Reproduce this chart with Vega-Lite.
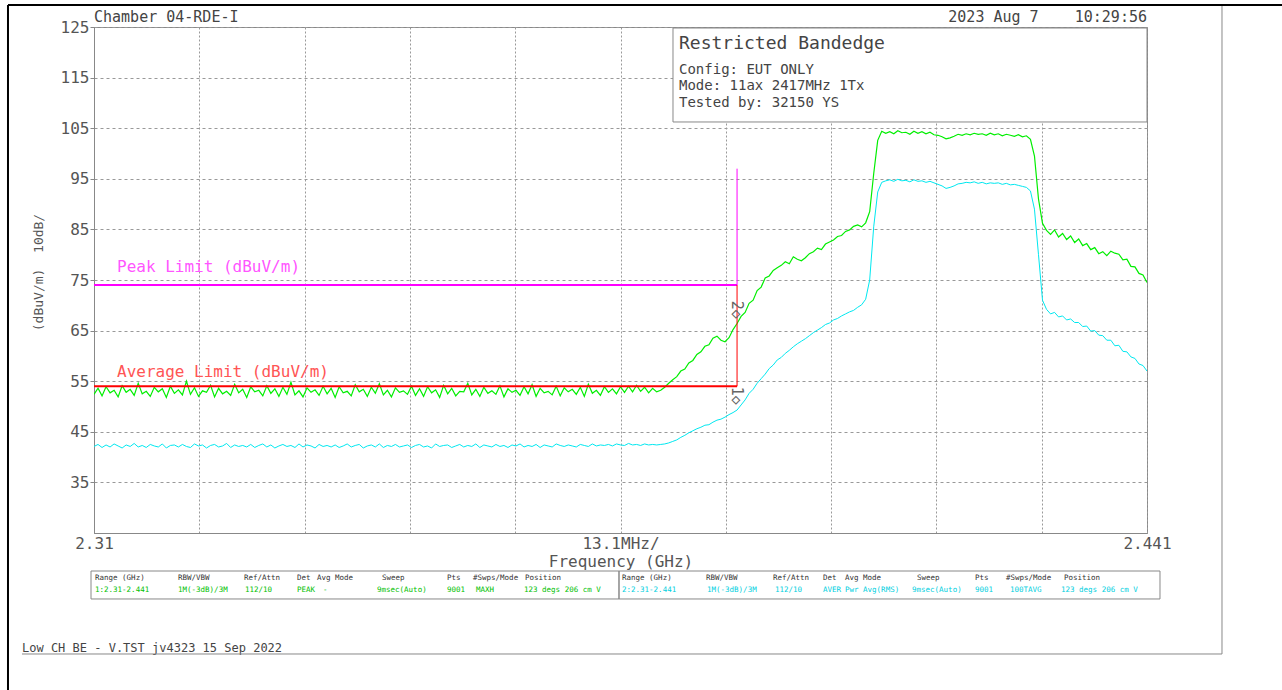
{
"$schema": "https://vega.github.io/schema/vega-lite/v6.json",
"width": 1053, "height": 506,
"autosize": {"type": "none"},
"padding": {"left": 94, "top": 27, "right": 135, "bottom": 157},
"background": "white",
"resolve": {"scale": {"color": "independent"}},
"config": {
 "view": {"stroke": "#888", "strokeWidth": 1},
 "font": "DejaVu Sans Mono",
 "axis": {"labelFont": "DejaVu Sans Mono", "titleFont": "DejaVu Sans Mono", "titleFontWeight": "normal", "labelColor": "#555", "titleColor": "#555", "domainColor": "#888", "tickColor": "#888", "gridColor": "#999"}
},
"datasets": {
 "trace": [
{"f":2.3100,"g":52.4,"c":42.1},{"f":2.3105,"g":53.6,"c":42.5},{"f":2.3110,"g":52.1,"c":41.9},{"f":2.3115,"g":53.9,"c":42.4},{"f":2.3120,"g":52.7,"c":42.0},{"f":2.3125,"g":53.2,"c":42.6},{"f":2.3130,"g":51.9,"c":42.2},{"f":2.3135,"g":54.1,"c":41.8},{"f":2.3140,"g":52.8,"c":42.4},{"f":2.3145,"g":53.4,"c":42.1},
{"f":2.3150,"g":52.2,"c":42.7},{"f":2.3155,"g":54.6,"c":42.0},{"f":2.3160,"g":52.5,"c":42.3},{"f":2.3165,"g":53.0,"c":41.9},{"f":2.3170,"g":52.0,"c":42.5},{"f":2.3175,"g":53.8,"c":42.2},{"f":2.3180,"g":52.9,"c":42.0},{"f":2.3185,"g":53.5,"c":42.6},{"f":2.3190,"g":51.8,"c":41.8},{"f":2.3195,"g":54.0,"c":42.3},
{"f":2.3200,"g":52.6,"c":42.4},{"f":2.3205,"g":53.3,"c":42.0},{"f":2.3210,"g":52.3,"c":42.5},{"f":2.3215,"g":55.0,"c":42.1},{"f":2.3220,"g":52.4,"c":41.9},{"f":2.3225,"g":53.7,"c":42.6},{"f":2.3230,"g":52.0,"c":42.2},{"f":2.3235,"g":53.1,"c":42.4},{"f":2.3240,"g":52.8,"c":41.8},{"f":2.3245,"g":54.2,"c":42.3},
{"f":2.3250,"g":51.9,"c":42.5},{"f":2.3255,"g":53.6,"c":42.0},{"f":2.3260,"g":52.5,"c":42.2},{"f":2.3265,"g":53.0,"c":42.7},{"f":2.3270,"g":52.2,"c":41.9},{"f":2.3275,"g":54.4,"c":42.4},{"f":2.3280,"g":52.7,"c":42.1},{"f":2.3285,"g":53.4,"c":42.3},{"f":2.3290,"g":51.8,"c":42.0},{"f":2.3295,"g":53.9,"c":42.5},
{"f":2.3300,"g":52.9,"c":41.9},{"f":2.3305,"g":53.2,"c":42.3},{"f":2.3310,"g":52.1,"c":42.6},{"f":2.3315,"g":54.1,"c":42.0},{"f":2.3320,"g":52.6,"c":42.4},{"f":2.3325,"g":53.5,"c":41.8},{"f":2.3330,"g":52.0,"c":42.2},{"f":2.3335,"g":53.8,"c":42.5},{"f":2.3340,"g":52.4,"c":42.1},{"f":2.3345,"g":54.8,"c":42.3},
{"f":2.3350,"g":52.3,"c":41.9},{"f":2.3355,"g":53.1,"c":42.6},{"f":2.3360,"g":51.9,"c":42.0},{"f":2.3365,"g":53.7,"c":42.4},{"f":2.3370,"g":52.8,"c":42.2},{"f":2.3375,"g":53.3,"c":41.8},{"f":2.3380,"g":52.2,"c":42.5},{"f":2.3385,"g":54.0,"c":42.1},{"f":2.3390,"g":52.5,"c":42.3},{"f":2.3395,"g":53.6,"c":42.0},
{"f":2.3400,"g":51.8,"c":42.4},{"f":2.3405,"g":53.9,"c":41.9},{"f":2.3410,"g":52.7,"c":42.2},{"f":2.3415,"g":53.0,"c":42.6},{"f":2.3420,"g":52.1,"c":42.0},{"f":2.3425,"g":54.3,"c":42.3},{"f":2.3430,"g":52.9,"c":42.5},{"f":2.3435,"g":53.4,"c":41.8},{"f":2.3440,"g":52.0,"c":42.2},{"f":2.3445,"g":53.8,"c":42.4},
{"f":2.3450,"g":52.6,"c":42.0},{"f":2.3455,"g":54.5,"c":42.6},{"f":2.3460,"g":52.3,"c":41.9},{"f":2.3465,"g":53.2,"c":42.3},{"f":2.3470,"g":51.9,"c":42.1},{"f":2.3475,"g":53.7,"c":42.5},{"f":2.3480,"g":52.8,"c":42.0},{"f":2.3485,"g":53.1,"c":42.2},{"f":2.3490,"g":52.4,"c":42.4},{"f":2.3495,"g":54.0,"c":41.9},
{"f":2.3500,"g":52.2,"c":42.3},{"f":2.3505,"g":53.5,"c":42.5},{"f":2.3510,"g":52.0,"c":42.0},{"f":2.3515,"g":53.9,"c":42.2},{"f":2.3520,"g":52.7,"c":41.8},{"f":2.3525,"g":53.3,"c":42.6},{"f":2.3530,"g":51.8,"c":42.1},{"f":2.3535,"g":54.2,"c":42.3},{"f":2.3540,"g":52.5,"c":42.4},{"f":2.3545,"g":53.6,"c":41.9},
{"f":2.3550,"g":52.1,"c":42.2},{"f":2.3555,"g":53.0,"c":42.5},{"f":2.3560,"g":52.9,"c":42.0},{"f":2.3565,"g":54.6,"c":42.3},{"f":2.3570,"g":52.3,"c":42.1},{"f":2.3575,"g":53.4,"c":42.6},{"f":2.3580,"g":52.0,"c":41.9},{"f":2.3585,"g":53.8,"c":42.4},{"f":2.3590,"g":52.6,"c":42.2},{"f":2.3595,"g":53.1,"c":42.0},
{"f":2.3600,"g":52.4,"c":42.5},{"f":2.3605,"g":54.1,"c":42.1},{"f":2.3610,"g":51.9,"c":42.3},{"f":2.3615,"g":53.5,"c":41.9},{"f":2.3620,"g":52.8,"c":42.4},{"f":2.3625,"g":53.2,"c":42.2},{"f":2.3630,"g":52.2,"c":42.6},{"f":2.3635,"g":53.9,"c":42.0},{"f":2.3640,"g":52.5,"c":42.3},{"f":2.3645,"g":54.3,"c":42.1},
{"f":2.3650,"g":52.0,"c":42.5},{"f":2.3655,"g":53.6,"c":41.9},{"f":2.3660,"g":52.7,"c":42.4},{"f":2.3665,"g":53.0,"c":42.2},{"f":2.3670,"g":52.3,"c":42.0},{"f":2.3675,"g":54.0,"c":42.6},{"f":2.3680,"g":52.1,"c":42.3},{"f":2.3685,"g":53.7,"c":42.1},{"f":2.3690,"g":52.9,"c":42.4},{"f":2.3695,"g":53.4,"c":42.2},
{"f":2.3700,"g":52.4,"c":42.0},{"f":2.3705,"g":53.8,"c":42.5},{"f":2.3710,"g":52.0,"c":42.3},{"f":2.3715,"g":54.4,"c":42.1},{"f":2.3720,"g":52.6,"c":42.6},{"f":2.3725,"g":53.2,"c":42.2},{"f":2.3730,"g":52.2,"c":42.4},{"f":2.3735,"g":53.9,"c":42.3},{"f":2.3740,"g":52.8,"c":42.5},{"f":2.3745,"g":53.5,"c":42.2},
{"f":2.3750,"g":52.5,"c":42.6},{"f":2.3755,"g":53.9,"c":42.4},{"f":2.3760,"g":52.8,"c":42.3},{"f":2.3765,"g":54.0,"c":42.7},{"f":2.3770,"g":52.9,"c":42.4},{"f":2.3775,"g":54.2,"c":42.5},{"f":2.3780,"g":53.0,"c":42.3},{"f":2.3785,"g":53.8,"c":42.6},{"f":2.3790,"g":52.7,"c":42.4},{"f":2.3795,"g":53.6,"c":42.5},
{"f":2.3800,"g":52.9,"c":42.4},{"f":2.3805,"g":53.2,"c":42.5},{"f":2.3810,"g":53.8,"c":42.6},{"f":2.3815,"g":54.6,"c":42.8},{"f":2.3820,"g":55.3,"c":43.1},{"f":2.3825,"g":55.9,"c":43.4},{"f":2.3830,"g":57.0,"c":43.9},{"f":2.3835,"g":57.4,"c":44.3},{"f":2.3840,"g":58.6,"c":44.8},{"f":2.3845,"g":59.1,"c":45.2},
{"f":2.3850,"g":60.3,"c":45.6},{"f":2.3855,"g":60.8,"c":45.9},{"f":2.3860,"g":61.9,"c":46.3},{"f":2.3865,"g":62.2,"c":46.4},{"f":2.3870,"g":63.5,"c":46.9},{"f":2.3875,"g":63.9,"c":47.3},{"f":2.3880,"g":63.1,"c":47.5},{"f":2.3885,"g":62.8,"c":47.9},{"f":2.3890,"g":63.6,"c":48.4},{"f":2.3895,"g":65.2,"c":48.8},
{"f":2.3900,"g":66.4,"c":49.3},{"f":2.3905,"g":67.8,"c":50.3},{"f":2.3910,"g":68.6,"c":51.3},{"f":2.3915,"g":70.4,"c":52.6},{"f":2.3920,"g":71.0,"c":53.4},{"f":2.3925,"g":72.9,"c":54.6},{"f":2.3930,"g":73.6,"c":55.5},{"f":2.3935,"g":75.4,"c":56.4},{"f":2.3940,"g":75.8,"c":57.5},{"f":2.3945,"g":76.9,"c":58.2},
{"f":2.3950,"g":77.4,"c":59.2},{"f":2.3955,"g":77.9,"c":59.7},{"f":2.3960,"g":78.6,"c":60.5},{"f":2.3965,"g":78.2,"c":61.1},{"f":2.3970,"g":79.6,"c":61.8},{"f":2.3975,"g":79.1,"c":62.4},{"f":2.3980,"g":78.8,"c":62.9},{"f":2.3985,"g":79.4,"c":63.4},{"f":2.3990,"g":80.2,"c":64.0},{"f":2.3995,"g":80.6,"c":64.6},
{"f":2.4000,"g":81.3,"c":65.1},{"f":2.4005,"g":81.0,"c":65.6},{"f":2.4010,"g":82.1,"c":66.2},{"f":2.4015,"g":82.5,"c":66.5},{"f":2.4020,"g":82.9,"c":67.1},{"f":2.4025,"g":83.6,"c":67.4},{"f":2.4030,"g":83.8,"c":67.9},{"f":2.4035,"g":84.6,"c":68.3},{"f":2.4040,"g":84.9,"c":68.7},{"f":2.4045,"g":85.6,"c":69.0},
{"f":2.4050,"g":85.9,"c":69.6},{"f":2.4055,"g":85.5,"c":70.1},{"f":2.4060,"g":86.3,"c":71.2},{"f":2.4065,"g":88.5,"c":75.0},{"f":2.4070,"g":96.0,"c":85.5},{"f":2.4075,"g":102.6,"c":92.4},{"f":2.4080,"g":104.4,"c":94.3},{"f":2.4085,"g":104.0,"c":94.6},{"f":2.4090,"g":104.3,"c":94.8},{"f":2.4095,"g":103.9,"c":94.5},
{"f":2.4100,"g":104.5,"c":94.9},{"f":2.4105,"g":104.1,"c":94.6},{"f":2.4110,"g":104.2,"c":94.7},{"f":2.4115,"g":103.8,"c":94.4},{"f":2.4120,"g":104.4,"c":94.8},{"f":2.4125,"g":104.0,"c":94.5},{"f":2.4130,"g":104.3,"c":94.6},{"f":2.4135,"g":103.9,"c":94.3},{"f":2.4140,"g":104.2,"c":94.5},{"f":2.4145,"g":103.7,"c":94.2},
{"f":2.4150,"g":103.6,"c":93.9},{"f":2.4155,"g":103.3,"c":93.6},{"f":2.4160,"g":102.9,"c":93.1},{"f":2.4165,"g":103.1,"c":93.3},{"f":2.4170,"g":103.4,"c":93.6},{"f":2.4175,"g":103.8,"c":94.0},{"f":2.4180,"g":103.6,"c":94.1},{"f":2.4185,"g":103.9,"c":94.3},{"f":2.4190,"g":103.7,"c":94.2},{"f":2.4195,"g":104.0,"c":94.4},
{"f":2.4200,"g":103.8,"c":94.1},{"f":2.4205,"g":103.9,"c":94.3},{"f":2.4210,"g":103.6,"c":94.0},{"f":2.4215,"g":104.0,"c":94.2},{"f":2.4220,"g":103.7,"c":94.1},{"f":2.4225,"g":103.9,"c":94.2},{"f":2.4230,"g":103.5,"c":93.9},{"f":2.4235,"g":103.8,"c":94.1},{"f":2.4240,"g":103.6,"c":93.8},{"f":2.4245,"g":103.4,"c":93.9},
{"f":2.4250,"g":103.7,"c":93.7},{"f":2.4255,"g":103.3,"c":93.5},{"f":2.4260,"g":103.5,"c":93.3},{"f":2.4265,"g":102.8,"c":92.6},{"f":2.4270,"g":99.5,"c":89.0},{"f":2.4275,"g":91.0,"c":80.0},{"f":2.4280,"g":86.2,"c":71.0},{"f":2.4285,"g":84.8,"c":69.2},{"f":2.4290,"g":84.0,"c":68.3},{"f":2.4295,"g":84.9,"c":68.6},
{"f":2.4300,"g":83.5,"c":67.7},{"f":2.4305,"g":84.2,"c":67.9},{"f":2.4310,"g":83.0,"c":67.1},{"f":2.4315,"g":83.7,"c":67.3},{"f":2.4320,"g":82.4,"c":66.6},{"f":2.4325,"g":83.1,"c":66.6},{"f":2.4330,"g":81.8,"c":65.8},{"f":2.4335,"g":82.2,"c":65.9},{"f":2.4340,"g":81.0,"c":64.9},{"f":2.4345,"g":81.4,"c":65.0},
{"f":2.4350,"g":80.2,"c":64.1},{"f":2.4355,"g":80.6,"c":64.0},{"f":2.4360,"g":79.8,"c":63.1},{"f":2.4365,"g":80.7,"c":63.1},{"f":2.4370,"g":80.3,"c":62.0},{"f":2.4375,"g":80.1,"c":62.1},{"f":2.4380,"g":79.0,"c":60.9},{"f":2.4385,"g":79.1,"c":60.8},{"f":2.4390,"g":77.7,"c":59.8},{"f":2.4395,"g":77.6,"c":59.5},
{"f":2.4400,"g":76.3,"c":58.4},{"f":2.4405,"g":76.0,"c":58.1},{"f":2.4410,"g":74.5,"c":57.0}
 ],
 "limits": [
  {"name": "Peak", "v": 74, "lo": 2.31, "hi": 2.39, "top": 97, "bot": 74},
  {"name": "Average", "v": 54, "lo": 2.31, "hi": 2.39, "top": 74, "bot": 54}
 ],
 "table": [
  {"t": "Range (GHz)", "f": 2.310124, "y": 16.1, "k": "h"},
  {"t": "RBW/VBW", "f": 2.32045, "y": 16.1, "k": "h"},
  {"t": "Ref/Attn", "f": 2.328661, "y": 16.1, "k": "h"},
  {"t": "Det", "f": 2.335254, "y": 16.1, "k": "h"},
  {"t": "Avg Mode", "f": 2.337743, "y": 16.1, "k": "h"},
  {"t": "Sweep", "f": 2.345829, "y": 16.1, "k": "h"},
  {"t": "Pts", "f": 2.353915, "y": 16.1, "k": "h"},
  {"t": "#Swps/Mode", "f": 2.35715, "y": 16.1, "k": "h"},
  {"t": "Position", "f": 2.363619, "y": 16.1, "k": "h"},
  {"t": "1:2.31-2.441", "f": 2.310124, "y": 13.7, "k": "pk"},
  {"t": "1M(-3dB)/3M", "f": 2.32045, "y": 13.7, "k": "pk"},
  {"t": "112/10", "f": 2.328785, "y": 13.7, "k": "pk"},
  {"t": "PEAK", "f": 2.335254, "y": 13.7, "k": "pk"},
  {"t": "-", "f": 2.338489, "y": 13.7, "k": "pk"},
  {"t": "9msec(Auto)", "f": 2.345207, "y": 13.7, "k": "pk"},
  {"t": "9001", "f": 2.353915, "y": 13.7, "k": "pk"},
  {"t": "MAXH", "f": 2.357523, "y": 13.7, "k": "pk"},
  {"t": "123 degs 206 cm V", "f": 2.363495, "y": 13.7, "k": "pk"},
  {"t": "Range (GHz)", "f": 2.375686, "y": 16.1, "k": "h"},
  {"t": "RBW/VBW", "f": 2.386136, "y": 16.1, "k": "h"},
  {"t": "Ref/Attn", "f": 2.394472, "y": 16.1, "k": "h"},
  {"t": "Det", "f": 2.400692, "y": 16.1, "k": "h"},
  {"t": "Avg Mode", "f": 2.403429, "y": 16.1, "k": "h"},
  {"t": "Sweep", "f": 2.412386, "y": 16.1, "k": "h"},
  {"t": "Pts", "f": 2.419602, "y": 16.1, "k": "h"},
  {"t": "#Swps/Mode", "f": 2.423458, "y": 16.1, "k": "h"},
  {"t": "Position", "f": 2.430674, "y": 16.1, "k": "h"},
  {"t": "2:2.31-2.441", "f": 2.375686, "y": 13.7, "k": "av"},
  {"t": "1M(-3dB)/3M", "f": 2.38626, "y": 13.7, "k": "av"},
  {"t": "112/10", "f": 2.394721, "y": 13.7, "k": "av"},
  {"t": "AVER", "f": 2.400692, "y": 13.7, "k": "av"},
  {"t": "Pwr Avg(RMS)", "f": 2.403429, "y": 13.7, "k": "av"},
  {"t": "9msec(Auto)", "f": 2.411764, "y": 13.7, "k": "av"},
  {"t": "9001", "f": 2.419602, "y": 13.7, "k": "av"},
  {"t": "100TAVG", "f": 2.423956, "y": 13.7, "k": "av"},
  {"t": "123 degs 206 cm V", "f": 2.430301, "y": 13.7, "k": "av"}
 ]
},
"layer": [
 {
  "data": {"name": "trace"},
  "mark": {"type": "line", "color": "#00e8f0", "strokeWidth": 1, "clip": true},
  "encoding": {
   "x": {"field": "f", "type": "quantitative", "scale": {"domain": [2.31, 2.441], "nice": false, "zero": false},
    "axis": {"values": [2.31, 2.3231, 2.3362, 2.3493, 2.3624, 2.3755, 2.3886, 2.4017, 2.4148, 2.4279, 2.441],
     "labelExpr": "abs(datum.value-2.3755)<0.0001 ? '13.1MHz/' : (datum.value<2.3101 ? '2.31' : (datum.value>2.4409 ? '2.441' : ''))",
     "labelOverlap": false, "labelFlush": false, "labelFontSize": 16, "labelPadding": 2, "ticks": false,
     "grid": true, "gridDash": [2, 2], "title": "Frequency (GHz)", "titleFontSize": 16, "titlePadding": 2}},
   "y": {"field": "c", "type": "quantitative", "scale": {"domain": [25, 125], "nice": false, "zero": false},
    "axis": {"values": [35, 45, 55, 65, 75, 85, 95, 105, 115, 125], "labelFontSize": 16, "tickSize": 4, "labelPadding": 1,
     "grid": true, "gridDash": [3, 3], "title": "(dBuV/m)\u00a0\u00a010dB/", "titleFontSize": 13, "titlePadding": 15, "titleY": 245}}
  }
 },
 {
  "data": {"name": "trace"},
  "mark": {"type": "line", "color": "#00ee00", "strokeWidth": 1.2, "clip": true},
  "encoding": {
   "x": {"field": "f", "type": "quantitative"},
   "y": {"field": "g", "type": "quantitative"}
  }
 },
 {
  "data": {"name": "limits"},
  "mark": {"type": "rule", "strokeWidth": 2},
  "encoding": {
   "x": {"field": "lo", "type": "quantitative"},
   "x2": {"field": "hi"},
   "y": {"field": "v", "type": "quantitative"},
   "color": {"field": "name", "type": "nominal", "scale": {"domain": ["Peak", "Average"], "range": ["#ff00ff", "#ff0000"]}, "legend": null}
  }
 },
 {
  "data": {"name": "limits"},
  "mark": {"type": "rule", "strokeWidth": 1},
  "encoding": {
   "x": {"field": "hi", "type": "quantitative"},
   "y": {"field": "top", "type": "quantitative"},
   "y2": {"field": "bot"},
   "color": {"field": "name", "type": "nominal", "scale": {"domain": ["Peak", "Average"], "range": ["#ff00ff", "#ff0000"]}, "legend": null}
  }
 },
 {
  "data": {"values": [{}]},
  "mark": {"type": "text", "text": "Peak Limit (dBuV/m)", "align": "left", "baseline": "middle", "fontSize": 16, "color": "#ff55ff"},
  "encoding": {"x": {"datum": 2.312861, "type": "quantitative"}, "y": {"datum": 77.57, "type": "quantitative"}}
 },
 {
  "data": {"values": [{}]},
  "mark": {"type": "text", "text": "Average Limit (dBuV/m)", "align": "left", "baseline": "middle", "fontSize": 16, "color": "#ff5555"},
  "encoding": {"x": {"datum": 2.312861, "type": "quantitative"}, "y": {"datum": 56.82, "type": "quantitative"}}
 },
 {
  "data": {"values": [{}]},
  "mark": {"type": "text", "text": "2\u25c7", "angle": 90, "align": "center", "baseline": "middle", "fontSize": 15, "color": "#666"},
  "encoding": {"x": {"datum": 2.39, "type": "quantitative"}, "y": {"datum": 69.1, "type": "quantitative"}}
 },
 {
  "data": {"values": [{}]},
  "mark": {"type": "text", "text": "1\u25c7", "angle": 90, "align": "center", "baseline": "middle", "fontSize": 15, "color": "#666"},
  "encoding": {"x": {"datum": 2.39, "type": "quantitative"}, "y": {"datum": 52.1, "type": "quantitative"}}
 },
 {
  "data": {"values": [{}]},
  "mark": {"type": "rect", "fill": "white", "stroke": "#888", "strokeWidth": 1, "clip": false},
  "encoding": {"x": {"datum": 2.38203, "type": "quantitative"}, "x2": {"datum": 2.441},
   "y": {"datum": 106.23, "type": "quantitative"}, "y2": {"datum": 124.8}}
 },
 {
  "data": {"values": [{}]},
  "mark": {"type": "text", "text": "Restricted Bandedge", "align": "left", "baseline": "middle", "fontSize": 18, "color": "#444"},
  "encoding": {"x": {"datum": 2.382778, "type": "quantitative"}, "y": {"datum": 121.64, "type": "quantitative"}}
 },
 {
  "data": {"values": [{}]},
  "mark": {"type": "text", "text": ["Config: EUT ONLY", "Mode: 11ax 2417MHz 1Tx", "Tested by: 32150 YS"], "lineHeight": 16.5, "align": "left", "baseline": "middle", "fontSize": 14, "color": "#444"},
  "encoding": {"x": {"datum": 2.382778, "type": "quantitative"}, "y": {"datum": 116.6, "type": "quantitative"}}
 },
 {
  "data": {"values": [{}]},
  "mark": {"type": "text", "text": "Chamber 04-RDE-I", "align": "left", "baseline": "middle", "fontSize": 15, "color": "#444"},
  "encoding": {"x": {"datum": 2.31, "type": "quantitative"}, "y": {"datum": 126.98, "type": "quantitative"}}
 },
 {
  "data": {"values": [{}]},
  "mark": {"type": "text", "text": "2023 Aug 7\u00a0\u00a0\u00a0\u00a010:29:56", "align": "right", "baseline": "middle", "fontSize": 15, "color": "#444"},
  "encoding": {"x": {"datum": 2.441, "type": "quantitative"}, "y": {"datum": 126.98, "type": "quantitative"}}
 },
 {
  "data": {"values": [{}]},
  "mark": {"type": "rect", "fill": "transparent", "stroke": "#888", "strokeWidth": 1, "clip": false},
  "encoding": {"x": {"datum": 2.309627, "type": "quantitative"}, "x2": {"datum": 2.375313},
   "y": {"datum": 11.96, "type": "quantitative"}, "y2": {"datum": 17.49}}
 },
 {
  "data": {"values": [{}]},
  "mark": {"type": "rect", "fill": "transparent", "stroke": "#888", "strokeWidth": 1, "clip": false},
  "encoding": {"x": {"datum": 2.375313, "type": "quantitative"}, "x2": {"datum": 2.442617},
   "y": {"datum": 11.96, "type": "quantitative"}, "y2": {"datum": 17.49}}
 },
 {
  "data": {"name": "table"},
  "mark": {"type": "text", "align": "left", "baseline": "middle", "fontSize": 7.5, "clip": false},
  "encoding": {
   "x": {"field": "f", "type": "quantitative"},
   "y": {"field": "y", "type": "quantitative"},
   "text": {"field": "t"},
   "color": {"field": "k", "type": "nominal", "scale": {"domain": ["h", "pk", "av"], "range": ["#333333", "#00c000", "#00cfe0"]}, "legend": null}
  }
 },
 {
  "data": {"values": [{}]},
  "mark": {"type": "text", "text": "Low CH BE - V.TST jv4323 15 Sep 2022", "align": "left", "baseline": "middle", "fontSize": 12, "color": "#444"},
  "encoding": {"x": {"datum": 2.30104, "type": "quantitative"}, "y": {"datum": 2.27, "type": "quantitative"}}
 },
 {
  "data": {"values": [{}]},
  "mark": {"type": "rule", "color": "#888", "strokeWidth": 1, "clip": false},
  "encoding": {"x": {"datum": 2.30104, "type": "quantitative"}, "x2": {"datum": 2.45033},
   "y": {"datum": 1.09, "type": "quantitative"}}
 },
 {
  "data": {"values": [{}]},
  "mark": {"type": "rule", "color": "#888", "strokeWidth": 1, "clip": false},
  "encoding": {"x": {"datum": 2.45033, "type": "quantitative"},
   "y": {"datum": 129.35, "type": "quantitative"}, "y2": {"datum": 1.09}}
 },
 {
  "data": {"values": [{}]},
  "mark": {"type": "rule", "color": "#000", "strokeWidth": 2, "clip": false},
  "encoding": {"x": {"datum": 2.2993, "type": "quantitative"}, "x2": {"datum": 2.4578},
   "y": {"datum": 129.35, "type": "quantitative"}}
 },
 {
  "data": {"values": [{}]},
  "mark": {"type": "rule", "color": "#000", "strokeWidth": 2, "clip": false},
  "encoding": {"x": {"datum": 2.2993, "type": "quantitative"},
   "y": {"datum": 129.35, "type": "quantitative"}, "y2": {"datum": -6.5}}
 }
]
}
